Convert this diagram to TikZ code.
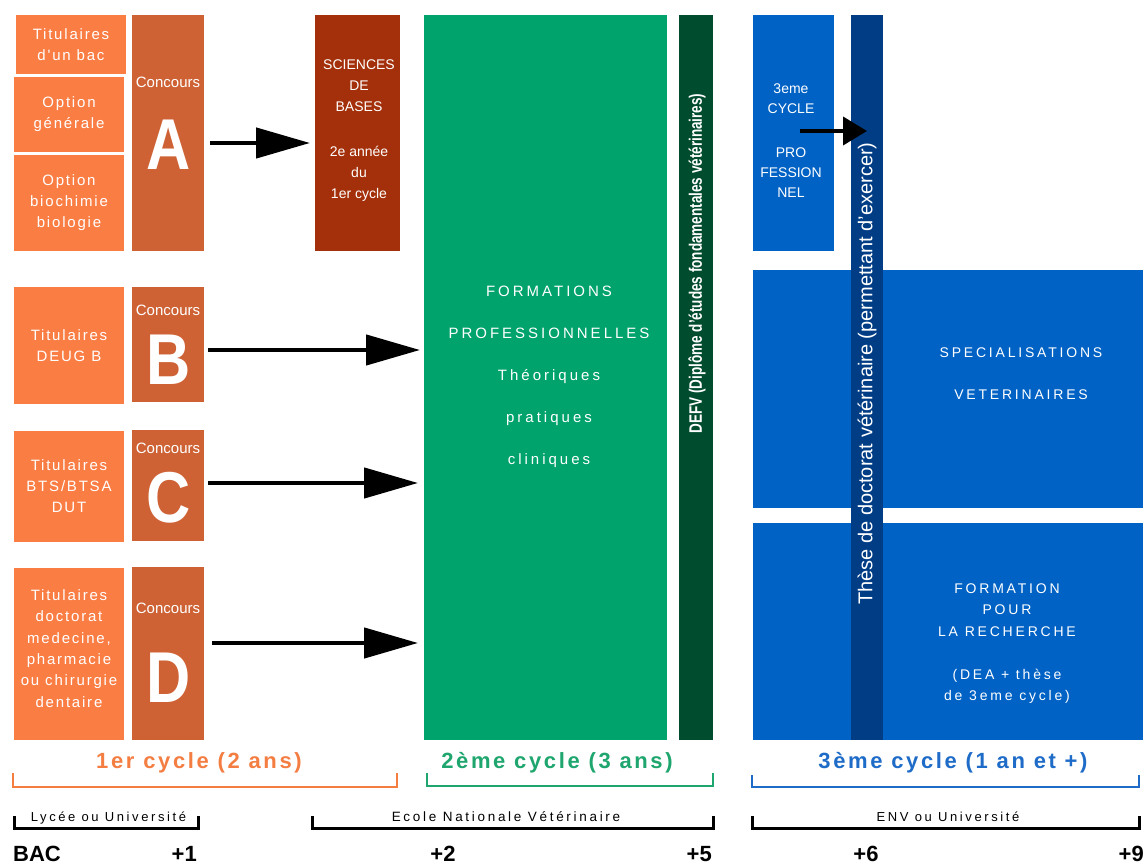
\documentclass[tikz,border=0pt]{standalone}
\usepackage{fontspec}
\setmainfont{Liberation Sans}
\newfontfamily\widefont[LetterSpace=12]{Liberation Sans}
\newfontfamily\widerfont[LetterSpace=20]{Liberation Sans}
\usetikzlibrary{arrows.meta,positioning}
\definecolor{entryorange}{RGB}{250,125,68}
\definecolor{concorange}{RGB}{206,98,52}
\definecolor{basesred}{RGB}{163,48,10}
\definecolor{progreen}{RGB}{0,163,107}
\definecolor{defvgreen}{RGB}{0,76,46}
\definecolor{envblue}{RGB}{0,98,196}
\definecolor{thesisblue}{RGB}{0,61,133}
\definecolor{cycleorange}{RGB}{244,125,66}
\definecolor{cyclegreen}{RGB}{30,166,110}
\definecolor{cycleblue}{RGB}{30,108,200}
\newcommand{\bartop}{15}
\newcommand{\barheight}{725}

\begin{document}
\begin{tikzpicture}[x=1pt,y=-1pt,
    box/.style={rectangle,inner sep=0pt,outer sep=0pt,text=white,align=center},
    entry/.style={box,fill=entryorange,minimum width=110,font=\widefont\fontsize{15}{21}\selectfont},
    concbox/.style={box,fill=concorange,minimum width=72},
    conctext/.style={text=white,inner sep=0pt,font=\fontsize{15}{18}\selectfont},
    bigletter/.style={text=white,inner sep=0pt,font=\bfseries\fontsize{72}{72}\selectfont},
    boxtext/.style={text=white,inner sep=0pt,align=center},
    flow/.style={-{Triangle[length=54pt,width=30pt]},line width=4.5pt},
    smallflow/.style={-{Triangle[length=24pt,width=28pt]},line width=4pt},
    bracket/.style={line width=2.5pt},
    cyclelabel/.style={inner sep=0pt,font=\widefont\bfseries\fontsize{22}{24}\selectfont},
    sitelabel/.style={inner sep=0pt,anchor=base,font=\widerfont\fontsize{13}{15}\selectfont},
    yearlabel/.style={inner sep=0pt,font=\bfseries\fontsize{22}{24}\selectfont}]

  \fill[white] (0,0) rectangle (1146,866);
  \useasboundingbox (0,0) rectangle (1146,866);

  % 1er cycle: who may enter, and the four concours
  \node[entry,minimum height=59] (bac) at (71,44.5) {Titulaires\\d'un bac};
  \node[entry,minimum height=75] (generale) at (69,114.5) {Option\\générale};
  \node[entry,minimum height=96] (biochimie) at (69,203) {Option\\biochimie\\biologie};
  \node[entry,minimum height=117] (deug) at (69,345.5) {Titulaires\\DEUG B};
  \node[entry,minimum height=111] (bts) at (69,486.5) {Titulaires\\BTS/BTSA\\DUT};
  \node[entry,minimum height=172] (doctorat) at (69,654) {};
  \node[boxtext,font=\widefont\fontsize{15}{21.4}\selectfont] (doctorattext) at (69,648.5)
    {Titulaires\\doctorat\\medecine,\\pharmacie\\ou chirurgie\\dentaire};

  \node[concbox,minimum height=236] (concA) at (168,133) {};
  \node[concbox,minimum height=115] (concB) at (168,344.5) {};
  \node[concbox,minimum height=111] (concC) at (168,485.5) {};
  \node[concbox,minimum height=173] (concD) at (168,653.5) {};
  \node[conctext] (concAlabel) at (168,82) {Concours};
  \node[conctext] (concBlabel) at (168,310) {Concours};
  \node[conctext] (concClabel) at (168,448) {Concours};
  \node[conctext] (concDlabel) at (168,608) {Concours};
  \node[bigletter] (letterA) at (169,145) {\scalebox{0.85}[1]{A}};
  \node[bigletter] (letterB) at (169,360) {\scalebox{0.85}[1]{B}};
  \node[bigletter] (letterC) at (169,497.5) {\scalebox{0.85}[1]{C}};
  \node[bigletter] (letterD) at (169,677.5) {\scalebox{0.85}[1]{D}};

  \node[box,fill=basesred,minimum width=85,minimum height=236] (bases) at (357.5,133) {};
  \node[boxtext,font=\fontsize{14}{21}\selectfont] (basestext) at (359,131)
    {SCIENCES\\DE\\BASES\\[24pt]2e année\\du\\1er cycle};

  % 2eme cycle
  \node[box,fill=progreen,minimum width=243,minimum height=\barheight] (formpro) at (545.5,377.5) {};
  \node[boxtext,font=\widerfont\fontsize{15}{42}\selectfont] (formprotext) at (549,376.5)
    {FORMATIONS\\PROFESSIONNELLES\\Théoriques\\pratiques\\cliniques};
  \node[box,fill=defvgreen,minimum width=34,minimum height=\barheight] (defv) at (696,377.5) {};
  \node[boxtext,rotate=90] (defvtext) at (697,263.5)
    {\scalebox{0.75}[1]{\bfseries\fontsize{18}{20}\selectfont DEFV (Diplôme d'études fondamentales vétérinaires)}};

  % 3eme cycle
  \node[box,fill=envblue,minimum width=81,minimum height=236] (pro3) at (793.5,133) {};
  \node[boxtext,font=\fontsize{14}{20}\selectfont] (pro3text) at (791,140.5)
    {3eme\\CYCLE\\[24pt]PRO\\FESSION\\NEL};
  \node[box,fill=envblue,minimum width=390,minimum height=238] (spec) at (948,389) {};
  \node[boxtext,font=\widerfont\fontsize{14}{42}\selectfont] (spectext) at (1021,374)
    {SPECIALISATIONS\\VETERINAIRES};
  \node[box,fill=envblue,minimum width=390,minimum height=217] (recherche) at (948,631.5) {};
  \node[boxtext,font=\widerfont\fontsize{14}{21.5}\selectfont] (recherchetext) at (1007,643.5)
    {FORMATION\\POUR\\LA RECHERCHE\\[21.5pt](DEA + thèse\\de 3eme cycle)};
  \node[box,fill=thesisblue,minimum width=32,minimum height=\barheight] (these) at (867,377.5) {};
  \node[boxtext,rotate=90,font=\fontsize{20}{22}\selectfont] (thesetext) at (867,373.5)
    {Thèse de doctorat vétérinaire (permettant d'exercer)};

  % arrows between the stages
  \draw[flow,shorten <=6pt,shorten >=5pt] (concA.east |- 0,143) -- (bases.west |- 0,143);
  \draw[flow,shorten <=4pt,shorten >=4pt] (concB.east |- 0,350) -- (formpro.west |- 0,350);
  \draw[flow,shorten <=4pt,shorten >=6pt] (concC.east |- 0,483) -- (formpro.west |- 0,483);
  \draw[flow,shorten <=8pt,shorten >=6pt] (concD.east |- 0,643) -- (formpro.west |- 0,643);
  \coordinate (pro3out) at (800,131);
  \draw[smallflow] (pro3out) -- (these.center |- pro3out);

  % cycles
  \node[cyclelabel,text=cycleorange] (cycle1) at (199,763) {1er cycle (2 ans)};
  \draw[bracket,cycleorange] (13,773) -- (13,787) -- (397,787) -- (397,773);
  \node[cyclelabel,text=cyclegreen] (cycle2) at (557,763) {2ème cycle (3 ans)};
  \draw[bracket,cyclegreen] (427,773) -- (427,786) -- (713,786) -- (713,773);
  \node[cyclelabel,text=cycleblue] (cycle3) at (953,763) {3ème cycle (1 an et +)};
  \draw[bracket,cycleblue] (752,775) -- (752,787) -- (1139,787) -- (1139,775);

  % where the studies take place
  \node[sitelabel] (lycee) at (108.5,821) {Lycée ou Université};
  \draw[line width=3pt] (14,816) -- (14,828) -- (198,828) -- (198,816);
  \node[sitelabel,font=\widerfont\fontsize{13.5}{15}\selectfont] (env) at (506,821) {Ecole Nationale Vétérinaire};
  \draw[line width=3pt] (312,816) -- (312,828) -- (713,828) -- (713,816);
  \node[sitelabel] (envuniv) at (948,821) {ENV ou Université};
  \draw[line width=3pt] (752,816) -- (752,828) -- (1139,828) -- (1139,816);

  % years after the bac
  \node[yearlabel,anchor=base west] (year0) at (13,861) {BAC};
  \node[yearlabel,anchor=base east] (year1) at (197,861) {+1};
  \node[yearlabel,anchor=base] (year2) at (443,861) {+2};
  \node[yearlabel,anchor=base east] (year5) at (712,861) {+5};
  \node[yearlabel,anchor=base] (year6) at (866,861) {+6};
  \node[yearlabel,anchor=base east] (year9) at (1144,861) {+9};

\end{tikzpicture}
\end{document}
